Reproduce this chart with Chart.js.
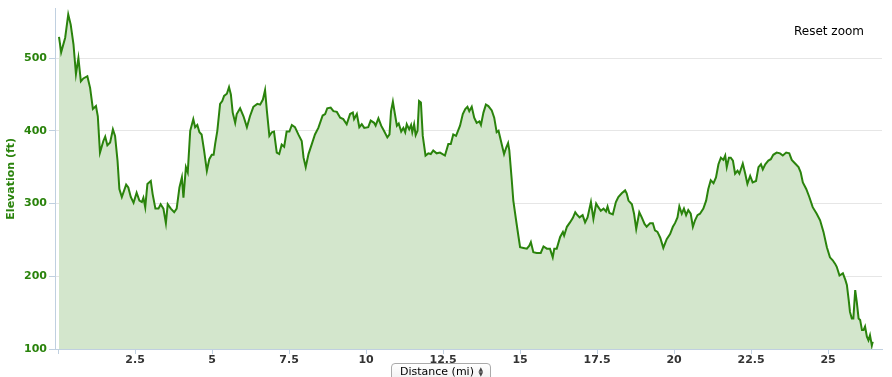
<!DOCTYPE html>
<html>
<head>
<meta charset="utf-8">
<script src="https://cdn.jsdelivr.net/npm/chart.js@4"></script>
<style>
  html, body { margin: 0; padding: 0; background: #fff; }
  #wrap { position: relative; width: 892px; height: 377px; }
  #reset { position: absolute; left: 794px; top: 24px; font: 12px "DejaVu Sans", sans-serif; color: #000; }
  #xtitle {
    position: absolute; left: 391px; top: 363px; width: 100px; height: 18px;
    border: 1px solid #aaa; border-radius: 4px; box-sizing: border-box;
    background: linear-gradient(#fff, #f0f0f0);
    font: 11px "DejaVu Sans", sans-serif; color: #000; padding: 1px 0 0 8px;
  }
  #xtitle .arr { position: absolute; right: 7px; top: 2px; font-size: 6px; line-height: 5px; color: #444; }
</style>
</head>
<body>
<div id="wrap">
  <canvas id="grafico" width="892" height="377"></canvas>
  <div id="reset">Reset zoom</div>
  <div id="xtitle">Distance (mi)<span class="arr">▲<br>▼</span></div>
</div>
<script>
// distanza (miglia) e quota (piedi)
const distance = [
  0.03, 0.1, 0.23, 0.33, 0.41, 0.5, 0.58, 0.66, 0.74, 0.82, 0.95, 1.04, 1.13, 1.23, 1.29, 1.36, 1.47, 1.53, 1.6, 1.69,
  1.78, 1.85, 1.93, 1.99, 2.07, 2.21, 2.28, 2.36, 2.45, 2.55, 2.64, 2.72, 2.77, 2.83, 2.9, 3.01, 3.07, 3.16, 3.26, 3.33,
  3.42, 3.5, 3.56, 3.66, 3.77, 3.85, 3.94, 4.02, 4.07, 4.15, 4.21, 4.29, 4.39, 4.45, 4.52, 4.59, 4.66, 4.74, 4.83, 4.91,
  4.99, 5.05, 5.1, 5.17, 5.26, 5.33, 5.39, 5.48, 5.55, 5.61, 5.67, 5.75, 5.8, 5.91, 6.02, 6.13, 6.23, 6.34, 6.47, 6.56,
  6.65, 6.72, 6.78, 6.86, 6.94, 7.01, 7.1, 7.18, 7.26, 7.34, 7.42, 7.51, 7.59, 7.69, 7.8, 7.91, 7.97, 8.04, 8.13, 8.24,
  8.34, 8.45, 8.59, 8.67, 8.74, 8.85, 8.94, 9.05, 9.16, 9.26, 9.37, 9.48, 9.57, 9.61, 9.7, 9.78, 9.86, 9.94, 10.07, 10.15,
  10.26, 10.31, 10.4, 10.49, 10.58, 10.69, 10.76, 10.81, 10.87, 10.92, 11.0, 11.06, 11.14, 11.21, 11.27, 11.32, 11.4, 11.46, 11.5, 11.56,
  11.61, 11.67, 11.72, 11.78, 11.84, 11.93, 12.02, 12.1, 12.18, 12.29, 12.4, 12.56, 12.67, 12.75, 12.83, 12.92, 13.05, 13.14, 13.22, 13.29,
  13.35, 13.43, 13.51, 13.59, 13.68, 13.73, 13.81, 13.89, 13.97, 14.08, 14.16, 14.24, 14.3, 14.35, 14.44, 14.48, 14.55, 14.61, 14.65, 14.73,
  14.78, 14.87, 14.95, 15.0, 15.11, 15.22, 15.3, 15.35, 15.43, 15.54, 15.67, 15.76, 15.87, 15.97, 16.06, 16.11, 16.19, 16.3, 16.39, 16.43,
  16.52, 16.62, 16.71, 16.79, 16.84, 16.93, 17.03, 17.11, 17.19, 17.3, 17.38, 17.47, 17.54, 17.62, 17.71, 17.79, 17.84, 17.9, 18.01, 18.11,
  18.19, 18.3, 18.41, 18.46, 18.52, 18.63, 18.7, 18.77, 18.87, 18.95, 19.04, 19.11, 19.22, 19.31, 19.38, 19.46, 19.55, 19.65, 19.76, 19.87,
  19.96, 20.03, 20.11, 20.17, 20.25, 20.32, 20.39, 20.46, 20.54, 20.61, 20.68, 20.76, 20.84, 20.95, 21.04, 21.11, 21.19, 21.28, 21.36, 21.44,
  21.52, 21.6, 21.66, 21.71, 21.78, 21.84, 21.91, 21.98, 22.06, 22.12, 22.23, 22.31, 22.38, 22.47, 22.55, 22.66, 22.74, 22.82, 22.88, 22.96,
  23.06, 23.14, 23.22, 23.33, 23.44, 23.53, 23.64, 23.74, 23.82, 23.93, 24.04, 24.11, 24.18, 24.29, 24.39, 24.5, 24.63, 24.74, 24.85, 24.96,
  25.06, 25.15, 25.23, 25.28, 25.37, 25.48, 25.56, 25.61, 25.67, 25.71, 25.77, 25.82, 25.88, 25.93, 25.99, 26.04, 26.1, 26.15, 26.2, 26.26,
  26.31, 26.36, 26.42, 26.45
];
const elevation = [
  529, 508, 528, 560, 546, 519, 478, 500, 468, 472, 475, 459, 430, 434, 420, 370, 386, 392, 380, 384,
  402, 393, 359, 320, 309, 326, 322, 309, 301, 315, 304, 302, 308, 295, 327, 331, 313, 293, 293, 299,
  293, 273, 299, 293, 288, 293, 322, 336, 308, 350, 343, 400, 416, 405, 408, 398, 395, 373, 345, 361,
  367, 367, 382, 400, 437, 441, 448, 451, 460, 450, 425, 411, 423, 431, 420, 405, 420, 433, 437, 436,
  443, 456, 427, 393, 398, 399, 370, 368, 381, 378, 399, 399, 408, 405, 395, 386, 363, 350, 368, 382,
  395, 404, 421, 423, 431, 432, 427, 426, 418, 416, 409, 423, 425, 416, 423, 405, 409, 404, 405, 414,
  411, 407, 417, 407, 400, 391, 395, 427, 440, 427, 407, 410, 399, 404, 398, 409, 402, 408, 398, 409,
  394, 400, 441, 439, 393, 366, 369, 368, 373, 369, 370, 366, 382, 382, 395, 393, 407, 423, 430, 433,
  427, 433, 418, 411, 413, 408, 425, 436, 434, 428, 418, 398, 400, 391, 375, 368, 377, 383, 373, 332,
  304, 277, 254, 240, 239, 238, 242, 247, 233, 232, 232, 241, 238, 238, 226, 238, 238, 254, 261, 256,
  268, 274, 280, 288, 285, 281, 284, 274, 281, 302, 279, 300, 295, 290, 293, 289, 296, 287, 285, 302,
  309, 314, 318, 314, 304, 299, 286, 265, 288, 281, 272, 268, 273, 273, 263, 261, 253, 239, 251, 258,
  268, 273, 281, 296, 286, 293, 284, 291, 286, 268, 277, 284, 286, 293, 304, 320, 332, 328, 336, 354,
  363, 360, 366, 350, 363, 363, 359, 341, 345, 341, 355, 341, 327, 338, 329, 331, 350, 354, 347, 354,
  359, 361, 367, 370, 369, 366, 370, 369, 360, 355, 350, 343, 329, 320, 309, 295, 286, 277, 261, 240,
  226, 222, 217, 213, 201, 204, 195, 188, 167, 151, 142, 142, 181, 165, 142, 140, 126, 126, 131, 117,
  112, 119, 105, 110
];
const xTicks = [0, 2.5, 5, 7.5, 10, 12.5, 15, 17.5, 20, 22.5, 25];
const yTicks = [100, 200, 300, 400, 500];

const verde = '#2a830c';
const font = { family: '"DejaVu Sans", sans-serif', size: 11, weight: 'bold' };

let punti = distance.map((d, i) => ({ x: d, y: elevation[i] }));

let chart = new Chart('grafico', {
  type: 'line',
  data: {
    datasets: [{
      data: punti,
      borderColor: verde,
      borderWidth: 2,
      backgroundColor: 'rgba(211,230,204,1)',
      fill: 'start',
      pointRadius: 0,
      tension: 0
    }]
  },
  options: {
    responsive: false,
    animation: false,
    layout: { padding: { top: 7, right: 10, left: 0, bottom: 0 } },
    plugins: { legend: { display: false }, tooltip: { enabled: false } },
    scales: {
      x: {
        type: 'linear',
        min: -0.1,
        max: 26.75,
        afterBuildTicks: s => { s.ticks = xTicks.map(v => ({ value: v })); },
        afterFit: s => { s.height = 28; },
        grid: { drawOnChartArea: false, drawTicks: true, tickLength: 5, color: '#c0d0e0' },
        border: { color: '#c0d0e0', width: 1 },
        ticks: {
          color: '#333',
          font: font,
          padding: 0,
          maxRotation: 0,
          callback: v => (v === 0 ? '' : String(v))
        }
      },
      y: {
        min: 100,
        max: 568,
        afterBuildTicks: s => { s.ticks = yTicks.map(v => ({ value: v })); },
        afterFit: s => { s.width = 55; },
        grid: { color: '#e6e6e6', tickColor: '#c0d0e0', tickLength: 6 },
        border: { color: '#c0d0e0', width: 1 },
        ticks: { color: verde, font: font, padding: 2 },
        title: { display: true, text: 'Elevation (ft)', color: verde, font: font, padding: { top: 5, bottom: 0 } }
      }
    }
  }
});
</script>
</body>
</html>
